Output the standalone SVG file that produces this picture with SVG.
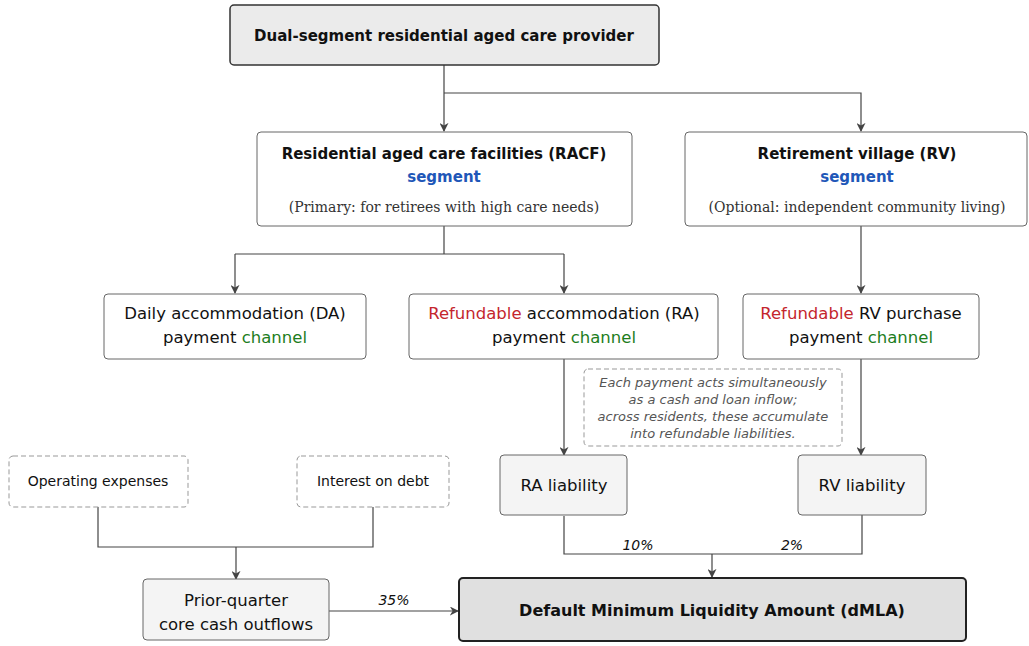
<svg xmlns="http://www.w3.org/2000/svg" width="1029" height="646" viewBox="0 0 1029 646">
<defs>
<marker id="ah" viewBox="0 0 10 10" refX="9" refY="5" markerWidth="9" markerHeight="9" markerUnits="userSpaceOnUse" orient="auto">
<path d="M0,0 L10,5 L0,10 L3,5 Z" fill="#444"/>
</marker>
<style>
text{font-family:"DejaVu Sans","Liberation Sans",sans-serif;fill:#111;text-anchor:middle}
.b{font-weight:bold;font-size:15px}
.big{font-size:16px}
.r{font-size:16.5px}
.s{font-size:14px}
.serif{font-family:"DejaVu Serif","Liberation Serif",serif;font-size:14px;fill:#333}
.it{font-style:italic;font-size:14px}
.note{font-style:italic;font-size:13px;fill:#555}
.blue{fill:#1f57b8}
.red{fill:#c4262d}
.green{fill:#1d7d1d}
.box{fill:#fff;stroke:#666;stroke-width:1}
.top{fill:#ebebeb;stroke:#333;stroke-width:1.5}
.lia{fill:#f4f4f4;stroke:#666;stroke-width:1}
.main{fill:#e0e0e0;stroke:#222;stroke-width:2}
.dash{fill:#fff;stroke:#999;stroke-width:1;stroke-dasharray:5 3}
.c{fill:none;stroke:#444;stroke-width:1.2}
</style>
</defs>

<g id="connectors">
<path class="c" d="M444,65 V131" marker-end="url(#ah)"/>
<path class="c" d="M444,93 H861 V131" marker-end="url(#ah)"/>
<path class="c" d="M444,226 V254"/>
<path class="c" d="M235,254 H564"/>
<path class="c" d="M235,254 V293" marker-end="url(#ah)"/>
<path class="c" d="M564,254 V293" marker-end="url(#ah)"/>
<path class="c" d="M861,226 V293" marker-end="url(#ah)"/>
<path class="c" d="M564,359 V455" marker-end="url(#ah)"/>
<path class="c" d="M861,359 V455" marker-end="url(#ah)"/>
<path class="c" d="M564,516 V554 H862 V515"/>
<path class="c" d="M712,554 V577" marker-end="url(#ah)"/>
<path class="c" d="M98,507 V547 H373 V507"/>
<path class="c" d="M236,547 V579" marker-end="url(#ah)"/>
<path class="c" d="M329,611 H458" marker-end="url(#ah)"/>
<text class="it" x="394" y="605">35%</text>
<text class="it" x="638" y="550">10%</text>
<text class="it" x="792" y="550">2%</text>
</g>

<g id="provider">
<rect class="top" x="230" y="5" width="429" height="60" rx="4"/>
<text class="b" x="444" y="41">Dual-segment residential aged care provider</text>
</g>

<g id="racf">
<rect class="box" x="257" y="132" width="375" height="94" rx="4"/>
<text class="b" x="444" y="159">Residential aged care facilities (RACF)</text>
<text class="b blue" x="444" y="182">segment</text>
<text class="serif" x="444" y="212">(Primary: for retirees with high care needs)</text>
</g>

<g id="rv">
<rect class="box" x="685" y="132" width="342" height="94" rx="4"/>
<text class="b" x="857" y="159">Retirement village (RV)</text>
<text class="b blue" x="857" y="182">segment</text>
<text class="serif" x="857" y="212">(Optional: independent community living)</text>
</g>

<g id="da">
<rect class="box" x="104" y="294" width="262" height="65" rx="4"/>
<text class="r" x="235" y="319">Daily accommodation (DA)</text>
<text class="r" x="235" y="343">payment <tspan class="green">channel</tspan></text>
</g>

<g id="ra">
<rect class="box" x="409" y="294" width="309" height="65" rx="4"/>
<text class="r" x="564" y="319"><tspan class="red">Refundable</tspan> accommodation (RA)</text>
<text class="r" x="564" y="343">payment <tspan class="green">channel</tspan></text>
</g>

<g id="rvpay">
<rect class="box" x="743" y="294" width="236" height="65" rx="4"/>
<text class="r" x="861" y="319"><tspan class="red">Refundable</tspan> RV purchase</text>
<text class="r" x="861" y="343">payment <tspan class="green">channel</tspan></text>
</g>

<g id="note">
<rect class="dash" x="584" y="369" width="258" height="77" rx="4"/>
<text class="note" x="713" y="387">Each payment acts simultaneously</text>
<text class="note" x="713" y="404">as a cash and loan inflow;</text>
<text class="note" x="713" y="421">across residents, these accumulate</text>
<text class="note" x="713" y="438">into refundable liabilities.</text>
</g>

<g id="ra-liability">
<rect class="lia" x="500" y="455" width="127" height="60" rx="4"/>
<text class="r" x="564" y="491">RA liability</text>
</g>

<g id="rv-liability">
<rect class="lia" x="798" y="455" width="128" height="60" rx="4"/>
<text class="r" x="862" y="491">RV liability</text>
</g>

<g id="opex">
<rect class="dash" x="9" y="456" width="179" height="51" rx="4"/>
<text class="s" x="98" y="486">Operating expenses</text>
</g>

<g id="interest">
<rect class="dash" x="297" y="456" width="152" height="51" rx="4"/>
<text class="s" x="373" y="486">Interest on debt</text>
</g>

<g id="outflows">
<rect class="lia" x="143" y="579" width="186" height="61" rx="4"/>
<text class="r" x="236" y="606">Prior-quarter</text>
<text class="r" x="236" y="630">core cash outflows</text>
</g>

<g id="dmla">
<rect class="main" x="459" y="578" width="507" height="63" rx="4"/>
<text class="b big" x="712" y="616">Default Minimum Liquidity Amount (dMLA)</text>
</g>
</svg>
